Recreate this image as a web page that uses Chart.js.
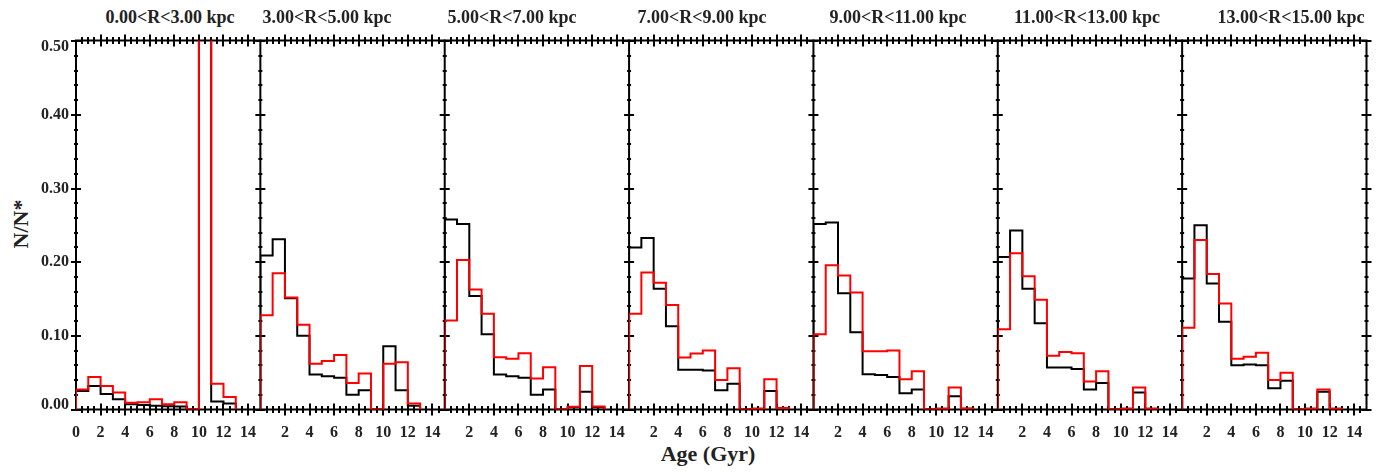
<!DOCTYPE html>
<html>
<head>
<meta charset="utf-8">
<script src="https://cdn.jsdelivr.net/npm/chart.js@4.4.1/dist/chart.umd.min.js"></script>
<style>
body { margin: 0; background: #fff; }
#wrap { position: relative; width: 1380px; height: 472px; overflow: hidden;
        font-family: "Liberation Serif", "DejaVu Serif", serif; font-weight: bold; color: #222; }
#wrap canvas { position: absolute; left: 0; top: 0; }
.ttl { position: absolute; top: 8px; font-size: 18px; line-height: 1; white-space: nowrap; transform: translateX(-50%); }
.xlab { position: absolute; left: 708px; top: 443px; font-size: 22px; line-height: 1; transform: translateX(-50%); }
.ylab { position: absolute; left: 21px; top: 224px; font-size: 22px; line-height: 1; white-space: nowrap;
        transform: translate(-50%, -50%) rotate(-90deg); }
</style>
</head>
<body>
<div id="wrap">
  <div class="xlab">Age (Gyr)</div>
  <div class="ylab">N/N*</div>
</div>
<script>
// radial bins (panel titles)
const radialBins = ['0.00<R<3.00 kpc', '3.00<R<5.00 kpc', '5.00<R<7.00 kpc', '7.00<R<9.00 kpc',
                    '9.00<R<11.00 kpc', '11.00<R<13.00 kpc', '13.00<R<15.00 kpc'];

// age bin left edges (Gyr), 1 Gyr wide, last edge at 13
const ageEdges = [0, 1, 2, 3, 4, 5, 6, 7, 8, 9, 10, 11, 12];
const ageEnd = 13;

// black histograms
const blk0_3   = [0.025, 0.032, 0.021, 0.014, 0.007, 0.006, 0.005, 0.0045, 0.004, 0, 0.9, 0.011, 0.008];
const blk3_5   = [0.209, 0.231, 0.151, 0.100, 0.0475, 0.045, 0.043, 0.020, 0.026, 0, 0.086, 0.026, 0.005];
const blk5_7   = [0.258, 0.252, 0.154, 0.102, 0.0475, 0.045, 0.043, 0.020, 0.027, 0, 0.003, 0.024, 0.003];
const blk7_9   = [0.220, 0.233, 0.164, 0.113, 0.054, 0.054, 0.053, 0.026, 0.035, 0, 0.001, 0.025, 0.001];
const blk9_11  = [0.252, 0.254, 0.158, 0.105, 0.048, 0.047, 0.044, 0.022, 0.027, 0, 0.001, 0.018, 0.001];
const blk11_13 = [0.207, 0.243, 0.164, 0.117, 0.057, 0.057, 0.055, 0.027, 0.036, 0, 0.001, 0.023, 0.001];
const blk13_15 = [0.178, 0.250, 0.171, 0.119, 0.060, 0.061, 0.060, 0.029, 0.039, 0, 0.001, 0.024, 0.001];

// red histograms
const red0_3   = [0.027, 0.044, 0.032, 0.023, 0.009, 0.010, 0.014, 0.007, 0.010, 0, 0.9, 0.035, 0.017];
const red3_5   = [0.128, 0.185, 0.152, 0.115, 0.062, 0.066, 0.074, 0.036, 0.049, 0, 0.062, 0.064, 0.008];
const red5_7   = [0.121, 0.203, 0.163, 0.130, 0.071, 0.069, 0.0765, 0.042, 0.0575, 0, 0.0036, 0.059, 0.004];
const red7_9   = [0.130, 0.186, 0.172, 0.142, 0.0706, 0.076, 0.080, 0.040, 0.056, 0, 0.001, 0.041, 0.002];
const red9_11  = [0.102, 0.196, 0.182, 0.159, 0.079, 0.079, 0.080, 0.041, 0.052, 0, 0.001, 0.030, 0.0014];
const red11_13 = [0.109, 0.212, 0.181, 0.149, 0.073, 0.078, 0.0765, 0.038, 0.052, 0, 0.001, 0.030, 0.001];
const red13_15 = [0.111, 0.230, 0.184, 0.144, 0.069, 0.0715, 0.077, 0.040, 0.050, 0, 0.001, 0.027, 0.001];

const blackSeries = [blk0_3, blk3_5, blk5_7, blk7_9, blk9_11, blk11_13, blk13_15];
const redSeries = [red0_3, red3_5, red5_7, red7_9, red9_11, red11_13, red13_15];

// ticks
const xMajorTicks = [0, 2, 4, 6, 8, 10, 12, 14];
const xMinorTicks = [0.5, 1, 1.5, 2.5, 3, 3.5, 4.5, 5, 5.5, 6.5, 7, 7.5, 8.5, 9, 9.5,
                     10.5, 11, 11.5, 12.5, 13, 13.5, 14.5];
const yMajorTicks = [0, 0.1, 0.2, 0.3, 0.4, 0.5];
const yTickLabels = ['0.00', '0.10', '0.20', '0.30', '0.40', '0.50'];
const yMinorTicks = [0.02, 0.04, 0.06, 0.08, 0.12, 0.14, 0.16, 0.18, 0.22, 0.24, 0.26, 0.28,
                     0.32, 0.34, 0.36, 0.38, 0.42, 0.44, 0.46, 0.48];

// layout
const W = 1380, H = 472;
const plotLeft = 76, plotRight = 1366.5, plotTop = 40.5, plotBottom = 409.5;
const panelW = (plotRight - plotLeft) / radialBins.length;
const titleCenters = [170, 327, 512, 702, 898, 1087, 1291];

function histPoints(values) {
    const pts = [{ x: ageEdges[0], y: 0 }];
    ageEdges.forEach((e, i) => pts.push({ x: e, y: values[i] }));
    pts.push({ x: ageEnd, y: 0 });
    return pts;
}

const framePlugin = {
    id: 'frame',
    beforeDatasetsDraw(chart, args, opts) {
        const { ctx, chartArea: a, scales: { x, y } } = chart;
        ctx.save();
        ctx.strokeStyle = '#000';
        ctx.lineWidth = 2;
        ctx.beginPath();
        ctx.moveTo(a.left - 1, a.top); ctx.lineTo(a.right + 1, a.top);
        ctx.moveTo(a.left - 1, a.bottom); ctx.lineTo(a.right + 1, a.bottom);
        ctx.moveTo(a.left, a.top); ctx.lineTo(a.left, a.bottom);
        if (opts.last) { ctx.moveTo(a.right, a.top); ctx.lineTo(a.right, a.bottom); }

        xMajorTicks.forEach(v => {
            const px = Math.round(x.getPixelForValue(v));
            if (v > 0) {
                ctx.moveTo(px, a.top - 6); ctx.lineTo(px, a.top + 6);
                ctx.moveTo(px, a.bottom - 6); ctx.lineTo(px, a.bottom + 6);
            }
        });
        xMinorTicks.forEach(v => {
            const px = Math.round(x.getPixelForValue(v));
            ctx.moveTo(px, a.top - 3.5); ctx.lineTo(px, a.top + 3.5);
            ctx.moveTo(px, a.bottom - 3.5); ctx.lineTo(px, a.bottom + 3.5);
        });
        const edges = opts.last ? [a.left, a.right] : [a.left];
        edges.forEach(ex => {
            yMajorTicks.forEach(v => {
                const py = Math.round(y.getPixelForValue(v));
                ctx.moveTo(ex - 5, py); ctx.lineTo(ex + 5, py);
            });
            yMinorTicks.forEach(v => {
                const py = Math.round(y.getPixelForValue(v));
                ctx.moveTo(ex - 2, py); ctx.lineTo(ex + 2, py);
            });
        });
        ctx.stroke();

        ctx.fillStyle = '#222';
        ctx.font = 'bold 16px "Liberation Serif", serif';
        ctx.textAlign = 'center';
        ctx.textBaseline = 'middle';
        xMajorTicks.forEach(v => {
            if (v === 0 && opts.index > 0) return;
            ctx.fillText(String(v), x.getPixelForValue(v), a.bottom + 23);
        });
        if (opts.index === 0) {
            ctx.textAlign = 'right';
            yMajorTicks.forEach((v, i) => {
                let py = y.getPixelForValue(v);
                py = Math.min(Math.max(py, a.top + 6), a.bottom - 5);
                ctx.fillText(yTickLabels[i], a.left - 7, py);
            });
        }
        ctx.restore();
    }
};

const wrap = document.getElementById('wrap');
radialBins.forEach((name, i) => {
    const t = document.createElement('div');
    t.className = 'ttl';
    t.style.left = titleCenters[i] + 'px';
    t.textContent = name;
    wrap.appendChild(t);

    const cv = document.createElement('canvas');
    cv.width = W; cv.height = H;
    cv.style.width = W + 'px'; cv.style.height = H + 'px';
    wrap.appendChild(cv);

    const left = plotLeft + i * panelW;
    new Chart(cv, {
        type: 'line',
        data: {
            datasets: [
                { data: histPoints(redSeries[i]), borderColor: '#ff0000' },
                { data: histPoints(blackSeries[i]), borderColor: '#000000' }
            ]
        },
        options: {
            responsive: false,
            animation: false,
            devicePixelRatio: 1,
            events: [],
            layout: {
                padding: { left: left, right: W - (left + panelW), top: plotTop, bottom: H - plotBottom }
            },
            elements: {
                line: { borderWidth: 2, stepped: 'before', tension: 0, borderJoinStyle: 'miter', borderCapStyle: 'butt' },
                point: { radius: 0 }
            },
            scales: {
                x: { type: 'linear', min: 0, max: 15, display: false },
                y: { type: 'linear', min: 0, max: 0.501, display: false }
            },
            plugins: {
                legend: { display: false },
                tooltip: { enabled: false },
                frame: { index: i, last: i === radialBins.length - 1 }
            }
        },
        plugins: [framePlugin]
    });
});
</script>
</body>
</html>
